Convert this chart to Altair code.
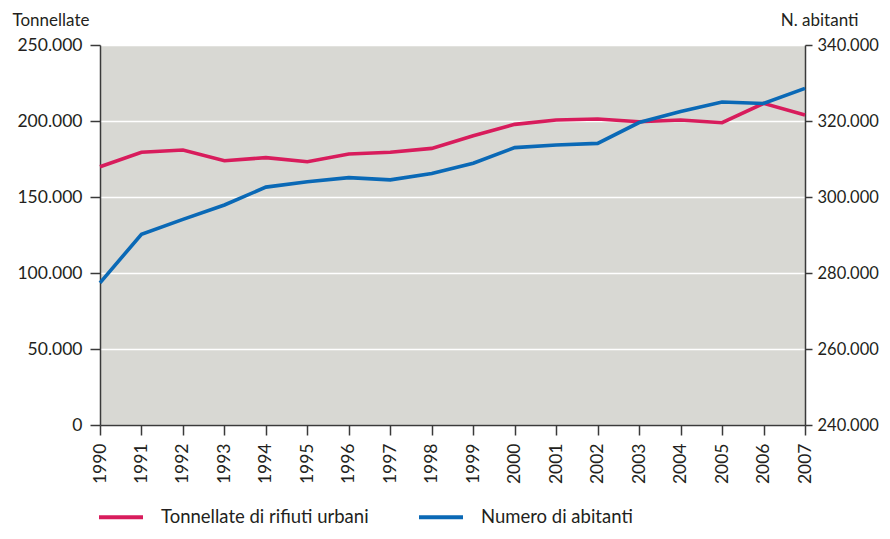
import altair as alt
import pandas as pd

years = list(range(1990, 2008))
tonnellate = [169900, 179400, 180900, 173900, 175900, 173200, 178300, 179400, 182000,
              190300, 197800, 200700, 201300, 199500, 200700, 198900, 211600, 203900]
abitanti = [277400, 290200, 294100, 297900, 302600, 304000, 305100, 304500, 306200,
            308900, 313000, 313700, 314100, 319600, 322500, 325000, 324600, 328600]

name_t = "Tonnellate di rifiuti urbani"
name_a = "Numero di abitanti"
series_names = [name_t, name_a]
series_colors = ["#d81c5c", "#0a69b6"]

df = pd.DataFrame({"year": years, name_t: tonnellate, name_a: abitanti})

FONT = "Lato"
TXT = "#231f20"
label_expr = "replace(format(datum.value, ','), regexp(',', 'g'), '.')"

color = alt.Color(
    "key:N",
    scale=alt.Scale(domain=series_names, range=series_colors),
    legend=alt.Legend(
        title=None, orient="none", direction="horizontal",
        legendX=-3, legendY=448,
        symbolType="stroke", symbolSize=1936, symbolStrokeWidth=4,
        labelFont=FONT, labelFontSize=18.5, labelColor=TXT, labelLimit=500,
        labelOffset=16, columnPadding=42,
    ),
)

x = alt.X(
    "year:Q",
    scale=alt.Scale(domain=[1990, 2007], nice=False, zero=False),
    axis=alt.Axis(values=years, format="d", labelAngle=270, tickSize=10,
                  labelPadding=8, grid=False, title=None),
)

left = alt.Chart(df).transform_fold([name_t]).mark_line(strokeWidth=3.6).encode(
    x=x,
    y=alt.Y(
        "value:Q",
        scale=alt.Scale(domain=[0, 250000], nice=False, zero=True),
        axis=alt.Axis(
            values=[0, 50000, 100000, 150000, 200000, 250000],
            labelExpr=label_expr, tickSize=10, labelPadding=8,
            grid=True, gridColor="white", gridWidth=1.5,
            title="Tonnellate", titleAngle=0, titleAlign="left",
            titleBaseline="middle", titleX=-88, titleY=-25,
        ),
    ),
    color=color,
)

right = alt.Chart(df).transform_fold([name_a]).mark_line(strokeWidth=3.6).encode(
    x=x,
    y=alt.Y(
        "value:Q",
        scale=alt.Scale(domain=[240000, 340000], nice=False, zero=False),
        axis=alt.Axis(
            orient="right",
            values=[240000, 260000, 280000, 300000, 320000, 340000],
            labelExpr=label_expr, tickSize=7, labelPadding=5, labelFontSize=16.5,
            grid=False,
            title="N. abitanti", titleAngle=0, titleAlign="right",
            titleBaseline="middle", titleX=53, titleY=-25,
        ),
    ),
    color=color,
)

chart = alt.layer(left, right).resolve_scale(y="independent").properties(
    width=705, height=380,
    autosize=alt.AutoSizeParams(type="none"),
    padding={"left": 92, "top": 37, "right": 77, "bottom": 102},
    background="white",
).configure_view(
    fill="#d8d8d3", stroke=None,
).configure_axis(
    labelFont=FONT, labelFontSize=17.5, labelColor=TXT,
    titleFont=FONT, titleFontSize=17, titleFontWeight="normal", titleColor=TXT,
    domainColor="#3a3a3a", domainWidth=1.5, tickColor="#3a3a3a", tickWidth=1.5,
)

chart.save("out.html", embed_options={"renderer": "svg", "actions": False})
